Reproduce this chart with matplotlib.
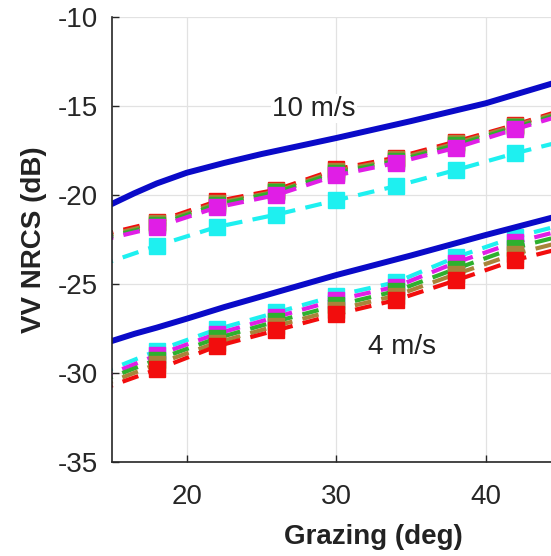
import numpy as np
import matplotlib
matplotlib.use("Agg")
import matplotlib.pyplot as plt

plt.rcParams['font.family'] = ['Liberation Sans', 'DejaVu Sans']
plt.rcParams['axes.unicode_minus'] = False

# model curves (solid blue)
x_model = [15, 16.5, 18, 20, 22.5, 25, 30, 35, 40, 45]
model_10 = [-20.5, -19.9, -19.35, -18.75, -18.2, -17.7, -16.8, -15.85, -14.85, -13.6]
model_4 = [-28.2, -27.8, -27.45, -26.95, -26.3, -25.7, -24.5, -23.4, -22.25, -21.15]

# measured points (dashed with squares)
x_meas = [14, 18, 22, 26, 30, 34, 38, 42, 46]

hi_red = [-22.3, -21.5, -20.35, -19.7, -18.55, -17.9, -17.0, -16.05, -15.0]
hi_olive = [-22.4, -21.6, -20.45, -19.8, -18.65, -18.0, -17.1, -16.1, -15.1]
hi_green = [-22.5, -21.7, -20.55, -19.85, -18.75, -18.1, -17.2, -16.2, -15.2]
hi_magenta = [-22.6, -21.8, -20.7, -20.0, -18.9, -18.2, -17.35, -16.3, -15.3]
hi_cyan = [-24.0, -22.85, -21.8, -21.1, -20.3, -19.5, -18.6, -17.65, -16.8]

lo_cyan = [-30.1, -28.75, -27.55, -26.6, -25.65, -24.9, -23.5, -22.35, -21.5]
lo_magenta = [-30.35, -29.0, -27.8, -26.85, -25.9, -25.15, -23.8, -22.65, -21.8]
lo_green = [-30.55, -29.25, -28.05, -27.1, -26.2, -25.4, -24.15, -22.95, -22.1]
lo_olive = [-30.8, -29.5, -28.3, -27.35, -26.45, -25.65, -24.45, -23.3, -22.45]
lo_red = [-31.0, -29.8, -28.5, -27.6, -26.7, -25.9, -24.8, -23.65, -22.8]

c_red = '#f20d0d'
c_olive = '#a8843a'
c_green = '#2eb02e'
c_magenta = '#e01ee6'
c_cyan = '#1ef0f0'
c_blue = '#0a0ac8'

fig = plt.figure(figsize=(5.51, 5.56), dpi=100)
ax = fig.add_axes([112 / 551, 94 / 556, 523 / 551, 445 / 556])

dash = (0, (4, 2.5))
hi = [(hi_red, c_red), (hi_olive, c_olive), (hi_green, c_green), (hi_magenta, c_magenta), (hi_cyan, c_cyan)]
lo = [(lo_cyan, c_cyan), (lo_magenta, c_magenta), (lo_green, c_green), (lo_olive, c_olive), (lo_red, c_red)]
for y, c in hi + lo:
    ax.plot(x_meas, y, linestyle=dash, color=c, lw=3, marker='s', ms=11,
            markeredgecolor=c, markerfacecolor=c)

ax.plot(x_model, model_10, color=c_blue, lw=4.3)
ax.plot(x_model, model_4, color=c_blue, lw=4.3)

ax.text(28.5, -15.15, '10 m/s', fontsize=20, ha='center', va='center', color='#222222',
        bbox=dict(facecolor='white', edgecolor='none', pad=1))
ax.text(34.4, -28.55, '4 m/s', fontsize=20, ha='center', va='center', color='#222222',
        bbox=dict(facecolor='white', edgecolor='none', pad=1))

ax.set_xlim(15, 50)
ax.set_ylim(-35, -10)
ax.set_xticks([20, 30, 40])
ax.set_yticks([-35, -30, -25, -20, -15, -10])
ax.grid(True, color='#e2e2e2', lw=0.9)
ax.set_axisbelow(True)
ax.spines['top'].set_visible(False)
ax.spines['right'].set_visible(False)
for s in ['left', 'bottom']:
    ax.spines[s].set_linewidth(1.2)
    ax.spines[s].set_color('#262626')
ax.tick_params(axis='both', direction='in', length=5, width=1.0, labelsize=20,
               labelcolor='#262626', color='#262626')
ax.tick_params(axis='x', pad=16)
ax.tick_params(axis='y', pad=10)

ax.set_xlabel('Grazing (deg)', fontsize=20, fontweight='bold', color='#222222', labelpad=10)
ax.set_ylabel('VV NRCS (dB)', fontsize=20, fontweight='bold', color='#222222', labelpad=8)

fig.savefig('out.png', dpi=100)
